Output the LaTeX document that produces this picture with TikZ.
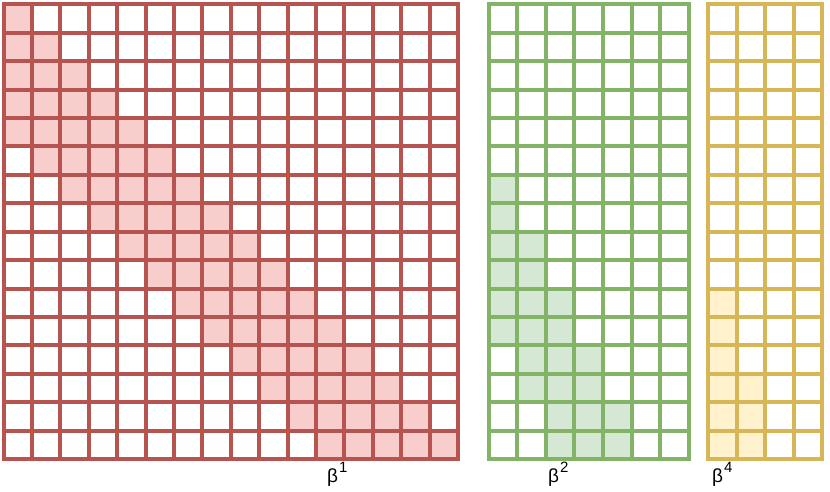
\documentclass[tikz,border=0pt]{standalone}
\usepackage{fontspec}
\setmainfont{Liberation Sans}
\definecolor{redS}{HTML}{B85450}
\definecolor{redF}{HTML}{F8CECC}
\definecolor{greenS}{HTML}{82B366}
\definecolor{greenF}{HTML}{D5E8D4}
\definecolor{yelS}{HTML}{D6B656}
\definecolor{yelF}{HTML}{FFF2CC}
\newcommand{\betasup}[1]{β\kern1pt\raisebox{10pt}{\fontsize{15}{15}\selectfont #1}}
\begin{document}
\begin{tikzpicture}[x=1pt,y=-1pt,
  gridline/.style={line width=4pt, line cap=rect},
  lbl/.style={anchor=base west, inner sep=0pt, font=\fontsize{19}{19}\selectfont}]
\useasboundingbox (0,0) rectangle (830,492);
\def\P{28.4}
\def\Y{4.5}
% ---------- red grid 16x16 ----------
\def\RX{3.5}
\foreach \r in {0,...,15}{
  \pgfmathtruncatemacro\a{max(0,\r-4)}
  \foreach \c in {\a,...,\r}{
    \fill[redF] ({\RX+\c*\P},{\Y+\r*\P}) rectangle ++(\P,\P);
  }
}
\foreach \i in {0,...,16}{
  \draw[gridline, redS] ({\RX+\i*\P},\Y) -- ++(0,{16*\P});
  \draw[gridline, redS] (\RX,{\Y+\i*\P}) -- ++({16*\P},0);
}
% ---------- green grid 7x16 ----------
\def\GX{488.5}
\def\GP{28.6}
\foreach \r in {6,...,15}{
  \pgfmathtruncatemacro\k{int((\r-6)/2)}
  \pgfmathtruncatemacro\a{max(0,\k-2)}
  \foreach \c in {\a,...,\k}{
    \fill[greenF] ({\GX+\c*\GP},{\Y+\r*\P}) rectangle ++(\GP,\P);
  }
}
\foreach \i in {0,...,7}{
  \draw[gridline, greenS] ({\GX+\i*\GP},\Y) -- ++(0,{16*\P});
}
\foreach \i in {0,...,16}{
  \draw[gridline, greenS] (\GX,{\Y+\i*\P}) -- ++({7*\GP},0);
}
% ---------- yellow grid 4x16 ----------
\def\YX{708}
\foreach \r in {10,...,15}{
  \pgfmathtruncatemacro\k{\r>12 ? 1 : 0}
  \foreach \c in {0,...,\k}{
    \fill[yelF] ({\YX+\c*\GP},{\Y+\r*\P}) rectangle ++(\GP,\P);
  }
}
\foreach \i in {0,...,4}{
  \draw[gridline, yelS] ({\YX+\i*\GP},\Y) -- ++(0,{16*\P});
}
\foreach \i in {0,...,16}{
  \draw[gridline, yelS] (\YX,{\Y+\i*\P}) -- ++({4*\GP},0);
}
% ---------- labels ----------
\node[lbl] (b1) at (327,482) {\betasup{1}};
\node[lbl] (b2) at (548,482) {\betasup{2}};
\node[lbl] (b4) at (712,482) {\betasup{4}};
\end{tikzpicture}
\end{document}
